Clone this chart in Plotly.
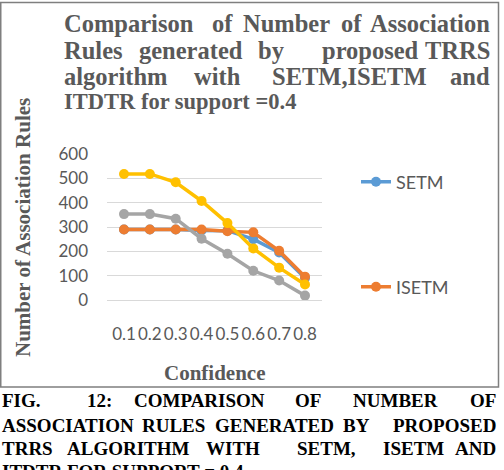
import plotly.graph_objects as go

# ---------------- data ----------------
confidence = ["0.1", "0.2", "0.3", "0.4", "0.5", "0.6", "0.7", "0.8"]
setm = [290, 290, 290, 286, 285, 250, 195, 90]
isetm = [290, 290, 290, 290, 283, 278, 202, 96]
itdtr = [353, 353, 334, 252, 190, 120, 80, 18]
trrs = [518, 518, 484, 407, 316, 212, 133, 64]
y_ticks = [0, 100, 200, 300, 400, 500, 600]

title_lines = [
    ["Comparison", "of", "Number", "of", "Association"],
    ["Rules", "generated", "by", "proposed", "TRRS"],
    ["algorithm", "with", "SETM,ISETM", "and"],
]
title_last = "ITDTR for support =0.4"
caption_lines = [
    ["FIG.", "12:", "COMPARISON", "OF", "NUMBER", "OF"],
    ["ASSOCIATION", "RULES", "GENERATED", "BY", "PROPOSED"],
    ["TRRS", "ALGORITHM", "WITH", "SETM,", "ISETM", "AND"],
]
caption_last = "ITDTR FOR SUPPORT = 0.4"
y_title = "Number of Association Rules"
x_title = "Confidence"

# ---------------- layout geometry (pixels) ----------------
W, H = 504, 470
PL, PR, PT, PB = 107, 322, 154, 300  # plot area in px

SERIF = "Liberation Serif, Times New Roman, DejaVu Serif, serif"
SANS = "Lato, Open Sans, sans-serif"


def px(x):
    return (x - PL) / (PR - PL)


def py(y):
    return (PB - y) / (PB - PT)


GRAY_TXT = "#595959"

fig = go.Figure()
series = [
    ("SETM", setm, "#5B9BD5", True, "legend"),
    ("ISETM", isetm, "#ED7D31", True, "legend2"),
    ("ITDTR", itdtr, "#A5A5A5", False, "legend"),
    ("TRRS", trrs, "#FFC000", False, "legend"),
]
for name, vals, col, show, lg in series:
    fig.add_trace(go.Scatter(
        x=confidence, y=vals, name=name, mode="lines+markers",
        line=dict(color=col, width=3.5),
        marker=dict(color=col, size=10),
        showlegend=show, legend=lg,
    ))

annotations = []

# title words (justified placement)
title_y = [23, 50, 77]
title_pos = [
    [("l", 62), ("c", 222.5), ("c", 286), ("c", 351.5), ("r", 492)],
    [("l", 62), ("c", 190.5), ("c", 271.5), ("c", 370), ("r", 492)],
    [("l", 62), ("c", 217.5), ("c", 349.5), ("r", 492)],
]
anchor = {"l": "left", "c": "center", "r": "right"}
for words, poss, yy in zip(title_lines, title_pos, title_y):
    for w, (a, xx) in zip(words, poss):
        annotations.append(dict(
            text="<b>" + w + "</b>", x=px(xx), y=py(yy), xref="paper", yref="paper",
            xanchor=anchor[a], yanchor="middle", showarrow=False,
            font=dict(family=SERIF, size=24.5, color=GRAY_TXT),
        ))
annotations.append(dict(
    text="<b>" + title_last + "</b>", x=px(62), y=py(102), xref="paper", yref="paper",
    xanchor="left", yanchor="middle", showarrow=False,
    font=dict(family=SERIF, size=22.5, color=GRAY_TXT),
))

# caption words
cap_y = [400, 425, 448]
cap_pos = [
    [("l", 0), ("c", 99), ("c", 199.5), ("c", 307.5), ("c", 395), ("r", 498)],
    [("l", 0), ("c", 173.5), ("c", 274), ("c", 356), ("r", 498)],
    [("l", 0), ("c", 128.5), ("c", 232.5), ("c", 326), ("c", 413.5), ("r", 498)],
]
for words, poss, yy in zip(caption_lines, cap_pos, cap_y):
    for w, (a, xx) in zip(words, poss):
        annotations.append(dict(
            text="<b>" + w + "</b>", x=px(xx), y=py(yy), xref="paper", yref="paper",
            xanchor=anchor[a], yanchor="middle", showarrow=False,
            font=dict(family=SERIF, size=19, color="#000000"),
        ))
annotations.append(dict(
    text="<b>" + caption_last + "</b>", x=px(0), y=py(471), xref="paper", yref="paper",
    xanchor="left", yanchor="middle", showarrow=False,
    font=dict(family=SERIF, size=19, color="#000000"),
))

# axis titles
annotations.append(dict(
    text="<b>" + y_title + "</b>", x=px(23), y=py(228), xref="paper", yref="paper",
    xanchor="center", yanchor="middle", showarrow=False, textangle=-90,
    font=dict(family=SERIF, size=21, color=GRAY_TXT),
))
annotations.append(dict(
    text="<b>" + x_title + "</b>", x=px(215), y=py(373), xref="paper", yref="paper",
    xanchor="center", yanchor="middle", showarrow=False,
    font=dict(family=SERIF, size=21, color=GRAY_TXT),
))

fig.update_layout(
    width=W, height=H,
    margin=dict(l=PL, r=W - PR, t=PT, b=H - PB, pad=0),
    paper_bgcolor="white", plot_bgcolor="white",
    annotations=annotations,
    shapes=[dict(type="rect", xref="paper", yref="paper",
                 x0=px(0.75), x1=px(498.5), y0=py(387), y1=py(2.5),
                 line=dict(color="#7F7F7F", width=1.5), fillcolor="rgba(0,0,0,0)")],
    xaxis=dict(
        type="category", showgrid=False, showline=False, zeroline=False,
        ticks="", ticklabelstandoff=22, tickangle=0,
        tickfont=dict(family=SANS, size=17, color=GRAY_TXT),
        fixedrange=True,
    ),
    yaxis=dict(
        range=[0, 600], tickvals=y_ticks, showgrid=True, gridcolor="#D9D9D9",
        gridwidth=1, zeroline=True, zerolinecolor="#D9D9D9", zerolinewidth=1,
        showline=False, ticks="", ticklabelstandoff=18,
        tickfont=dict(family=SANS, size=17, color=GRAY_TXT),
        fixedrange=True,
    ),
    legend=dict(
        x=px(356), y=py(182), xanchor="left", yanchor="middle",
        bgcolor="rgba(0,0,0,0)", font=dict(family=SANS, size=18, color=GRAY_TXT),
    ),
    legend2=dict(
        x=px(356), y=py(287), xanchor="left", yanchor="middle",
        bgcolor="rgba(0,0,0,0)", font=dict(family=SANS, size=18, color=GRAY_TXT),
    ),
)

fig.write_html("out.html")
